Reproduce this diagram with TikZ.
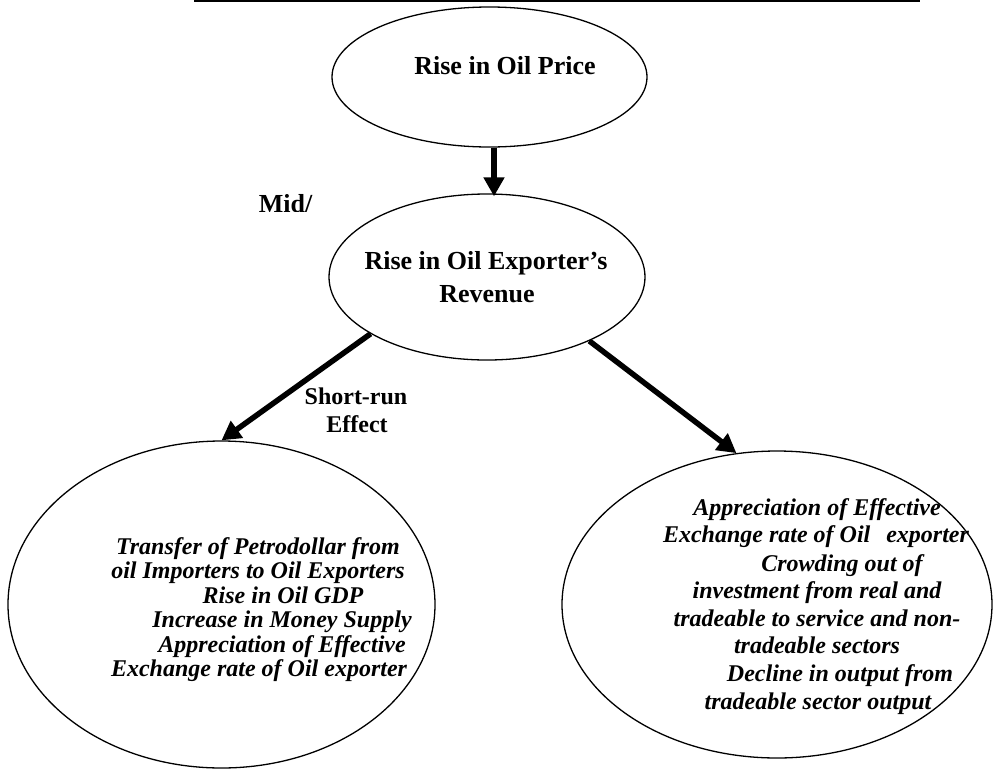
\documentclass[tikz,border=0pt]{standalone}
\usepackage{fontspec}
\setmainfont{Liberation Serif}
\usetikzlibrary{arrows.meta,shapes.geometric}
\tikzset{
  oval/.style={draw, ellipse, line width=1.3pt, inner sep=0pt},
  ttl/.style={font=\fontsize{26pt}{30pt}\selectfont\bfseries, inner sep=0pt, anchor=base},
  lbl/.style={font=\fontsize{24pt}{28pt}\selectfont\bfseries, inner sep=0pt, anchor=base},
  itl/.style={font=\fontsize{24pt}{28pt}\selectfont\bfseries\itshape, inner sep=0pt, anchor=base},
  bigarr/.style={line width=5.5pt, -{Triangle[length=19pt,width=20pt]}, shorten >=0pt},
}
\begin{document}
\begin{tikzpicture}[x=1pt,y=-1pt]
\useasboundingbox (0,0) rectangle (994,769);
% top rule (cut-off caption underline)
\draw[line width=1.6pt] (194,0.8) -- (920,0.8);
% ellipses
\node[oval, minimum width=315pt, minimum height=140pt] (p) at (489.5,77) {};
\node[oval, minimum width=316pt, minimum height=166pt] (r) at (487,277) {};
\node[oval, minimum width=427pt, minimum height=327pt] (L) at (221.5,604.5) {};
\node[oval, minimum width=430pt, minimum height=307pt] (R) at (777,604.5) {};
% titles
\node[ttl] (pt) at (505,74) {Rise in Oil Price};
\node[ttl] (rt1) at (486,269) {Rise in Oil Exporter’s};
\node[ttl] (rt2) at (487,302) {Revenue};
% clipped Mid/
\begin{scope}
\clip (240,180) rectangle (330,211);
\node[ttl] (mid) at (285.5,212) {Mid/};
\end{scope}
% arrows
\draw[bigarr] ([xshift=4.5pt]p.south) -- ([xshift=7pt,yshift=-3pt]r.north);
\draw[bigarr] (r.206) -- (L.north);
\draw[bigarr] (r.328) -- (R.105);
% short-run label
\node[lbl] (s1) at (356,404) {Short-run};
\node[lbl] (s2) at (357,432) {Effect};
% left ellipse text
\node[itl] (l1) at (258,554) {Transfer of Petrodollar from};
\node[itl] (l2) at (258,578) {oil Importers to Oil Exporters};
\node[itl] (l3) at (283,603) {Rise in Oil GDP};
\node[itl] (l4) at (282,627) {Increase in Money Supply};
\node[itl] (l5) at (282,652) {Appreciation of Effective};
\node[itl] (l6) at (259,676) {Exchange rate of Oil exporter};
% right ellipse text
\node[itl] (q1) at (817,515) {Appreciation of Effective};
\node[itl] (q2) at (816,542) {Exchange rate of Oil\hspace{16pt}exporter};
\node[itl] (q3) at (842,571) {Crowding out of};
\node[itl] (q4) at (817,598) {investment from real and};
\node[itl] (q5) at (817,626) {tradeable to service and non-};
\node[itl] (q6) at (817,653) {tradeable sectors};
\node[itl] (q7) at (840,681) {Decline in output from};
\node[itl] (q8) at (818,709) {tradeable sector output};
\end{tikzpicture}
\end{document}
